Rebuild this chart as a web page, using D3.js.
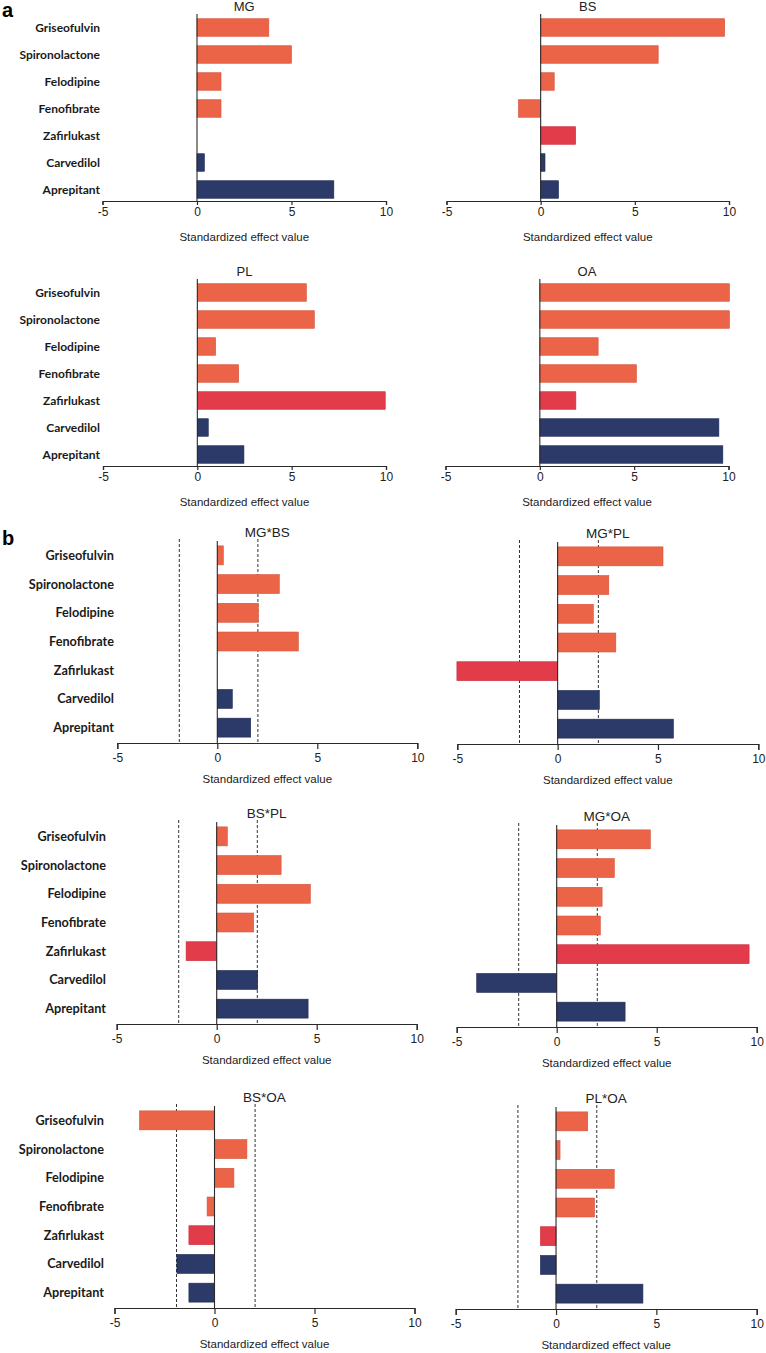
<!DOCTYPE html>
<html>
<head>
<meta charset="utf-8">
<script src="https://cdn.jsdelivr.net/npm/d3@7"></script>
<style>
  html, body { margin: 0; padding: 0; background: #fff; }
  svg { display: block; }
</style>
</head>
<body>
<svg id="chart" width="766" height="1353"></svg>
<script>
// ---------------- DATA ----------------
const categories = ["Griseofulvin", "Spironolactone", "Felodipine", "Fenofibrate", "Zafirlukast", "Carvedilol", "Aprepitant"];
const categoryColors = ["#ec6448", "#ec6448", "#ec6448", "#ec6448", "#e23c4a", "#2c3a6a", "#2c3a6a"];
const categoryStrokes = ["#d4503a", "#d4503a", "#d4503a", "#d4503a", "#c92c3c", "#1f2a52", "#1f2a52"];

const mg   = [3.8, 5.0, 1.27, 1.27, 0, 0.39, 7.24];
const bs   = [9.77, 6.24, 0.72, -1.18, 1.86, 0.23, 0.95];
const pl   = [5.78, 6.2, 0.97, 2.19, 9.96, 0.58, 2.47];
const oa   = [10.05, 10.05, 3.09, 5.12, 1.91, 9.49, 9.7];

const mgbs = [0.3, 3.1, 2.05, 4.05, 0, 0.75, 1.67];
const mgpl = [5.25, 2.55, 1.78, 2.9, -5.02, 2.08, 5.77];
const bspl = [0.53, 3.22, 4.68, 1.85, -1.53, 2.05, 4.57];
const mgoa = [4.68, 2.88, 2.27, 2.18, 9.62, -4.0, 3.42];
const bsoa = [-3.75, 1.62, 0.97, -0.37, -1.28, -1.88, -1.28];
const ploa = [1.58, 0.2, 2.9, 1.92, -0.78, -0.78, 4.33];

const xDomain = [-5, 10];
const xTicks = [-5, 0, 5, 10];
const refLines = [-1.9, 2.03];
const xLabel = "Standardized effect value";

// ---------------- LAYOUT ----------------
const sections = {
  a: { bandTop: -187, bandBottom: 2, padding: 0.35, zeroTop: -187, titleDy: -190, titleSize: 13,
       tickSize: 4, tickPadding: 2, xLabelDy: 40, labelSize: 12, dashed: false },
  b: { bandTop: -202, bandBottom: -1, padding: 0.34, zeroTop: -202, titleDy: -206, titleSize: 13.5,
       tickSize: 6, tickPadding: 4, xLabelDy: 40, labelSize: 12.7, dashed: true }
};

const panels = [
  { title: "MG",    values: mg,   sec: "a", x0: 102.5, x1: 386,   axisY: 201,  labelRight: 100 },
  { title: "BS",    values: bs,   sec: "a", x0: 446.5, x1: 729,   axisY: 201,  labelRight: null },
  { title: "PL",    values: pl,   sec: "a", x0: 103,   x1: 386,   axisY: 466,  labelRight: 100 },
  { title: "OA",    values: oa,   sec: "a", x0: 445.5, x1: 728.5, axisY: 466,  labelRight: null },
  { title: "MG*BS", values: mgbs, sec: "b", x0: 117.3, x1: 417.3, axisY: 743,  labelRight: 114 },
  { title: "MG*PL", values: mgpl, sec: "b", x0: 457.3, x1: 758.3, axisY: 744,  labelRight: null },
  { title: "BS*PL", values: bspl, sec: "b", x0: 116.7, x1: 416.7, axisY: 1024, labelRight: 106 },
  { title: "MG*OA", values: mgoa, sec: "b", x0: 456.7, x1: 756.7, axisY: 1027, labelRight: null },
  { title: "BS*OA", values: bsoa, sec: "b", x0: 114.5, x1: 414.5, axisY: 1308, labelRight: 104 },
  { title: "PL*OA", values: ploa, sec: "b", x0: 455.7, x1: 756.7, axisY: 1309, labelRight: null }
];

const svg = d3.select("#chart");
const sansFont = "'Liberation Sans', Arial, sans-serif";
const labelFont = "Lato, 'Open Sans', sans-serif";
const axisColor = "#2a2a2a";

panels.forEach(p => {
  const s = sections[p.sec];
  const g = svg.append("g");
  const x = d3.scaleLinear().domain(xDomain).range([p.x0, p.x1]);
  const y = d3.scaleBand()
    .domain(categories)
    .range([p.axisY + s.bandTop, p.axisY + s.bandBottom])
    .paddingInner(s.padding)
    .paddingOuter(s.padding / 2);

  const rows = categories.map((c, i) => ({ cat: c, v: p.values[i], fill: categoryColors[i], stroke: categoryStrokes[i] }));

  // dashed reference lines
  if (s.dashed) {
    g.selectAll("line.ref").data(refLines).join("line")
      .attr("x1", d => x(d)).attr("x2", d => x(d))
      .attr("y1", p.axisY - 204).attr("y2", p.axisY)
      .attr("stroke", "#333").attr("stroke-width", 1)
      .attr("stroke-dasharray", "3,2");
  }

  // bars
  g.selectAll("rect.bar").data(rows.filter(r => r.v !== 0)).join("rect")
    .attr("x", d => Math.min(x(0), x(d.v)))
    .attr("width", d => Math.abs(x(d.v) - x(0)))
    .attr("y", d => y(d.cat))
    .attr("height", y.bandwidth())
    .attr("fill", d => d.fill)
    .attr("stroke", d => d.stroke)
    .attr("stroke-width", 0.6);

  // zero line
  g.append("line")
    .attr("x1", x(0)).attr("x2", x(0))
    .attr("y1", p.axisY + s.zeroTop).attr("y2", p.axisY)
    .attr("stroke", axisColor).attr("stroke-width", 1.1);

  // x axis
  const axis = d3.axisBottom(x).tickValues(xTicks).tickFormat(d => String(d))
    .tickSize(s.tickSize).tickPadding(s.tickPadding);
  const ax = g.append("g").attr("transform", `translate(0,${p.axisY})`).call(axis);
  ax.select(".domain").attr("stroke", axisColor).attr("stroke-width", 1.2);
  ax.selectAll(".tick line").attr("stroke", axisColor).attr("stroke-width", 1.2);
  ax.selectAll(".tick text").attr("font-family", sansFont).attr("font-size", 12).attr("fill", "#222");

  // x label
  g.append("text")
    .attr("x", (p.x0 + p.x1) / 2).attr("y", p.axisY + s.xLabelDy)
    .attr("text-anchor", "middle")
    .attr("font-family", sansFont).attr("font-size", 11.5).attr("fill", "#222")
    .text(xLabel);

  // title
  g.append("text")
    .attr("x", (p.x0 + p.x1) / 2).attr("y", p.axisY + s.titleDy)
    .attr("text-anchor", "middle")
    .attr("font-family", sansFont).attr("font-size", s.titleSize).attr("fill", "#222")
    .text(p.title);

  // category labels
  if (p.labelRight !== null) {
    g.selectAll("text.cat").data(categories).join("text")
      .attr("x", p.labelRight)
      .attr("y", d => y(d) + y.bandwidth() / 2)
      .attr("dy", "0.35em")
      .attr("text-anchor", "end")
      .attr("font-family", labelFont).attr("font-weight", "bold")
      .attr("font-size", s.labelSize).attr("fill", "#1a1a1a")
      .text(d => d);
  }
});

// section letters
svg.append("text").attr("x", 2).attr("y", 17)
  .attr("font-family", sansFont).attr("font-weight", "bold").attr("font-size", 20).text("a");
svg.append("text").attr("x", 2).attr("y", 545)
  .attr("font-family", sansFont).attr("font-weight", "bold").attr("font-size", 20).text("b");
</script>
</body>
</html>
